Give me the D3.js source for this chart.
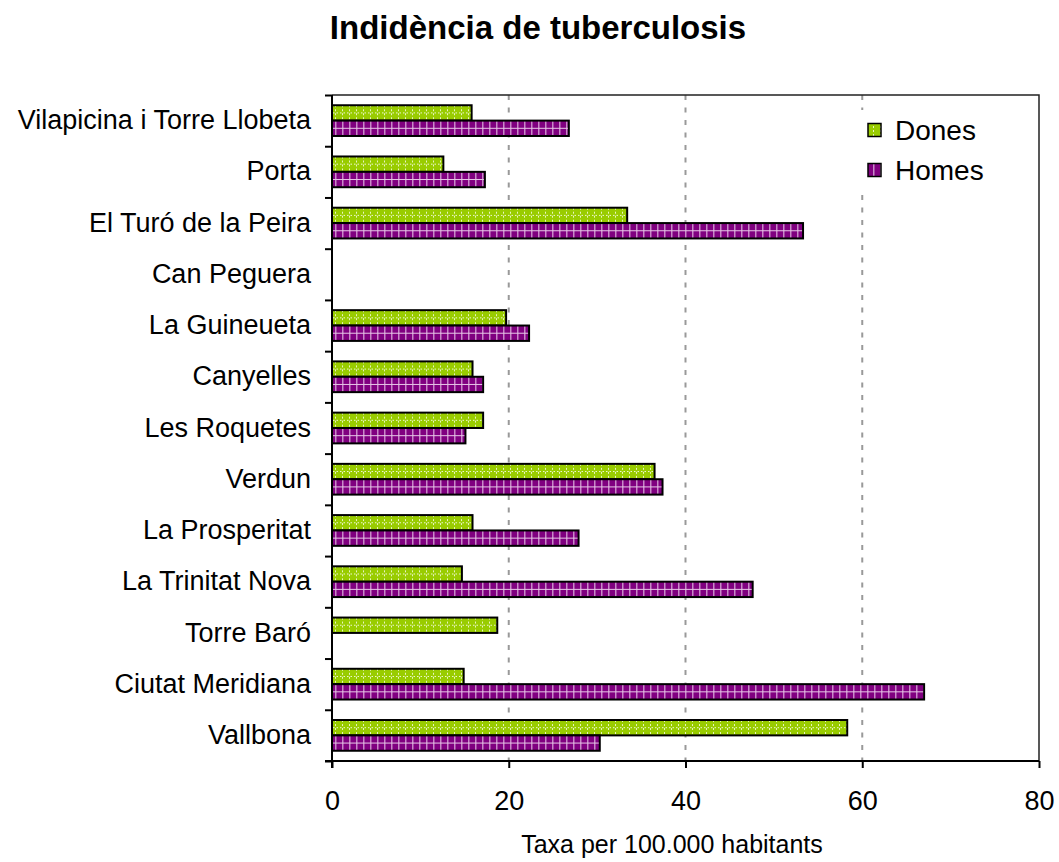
<!DOCTYPE html>
<html>
<head>
<meta charset="utf-8">
<script src="https://d3js.org/d3.v7.min.js"></script>
<style>
  body { margin: 0; background: #fff; }
  text { font-family: "Liberation Sans", Arial, sans-serif; fill: #000; }
</style>
</head>
<body>
<script>
// Neighbourhoods, top to bottom as drawn
var categories = ["Vilapicina i Torre Llobeta", "Porta", "El Turó de la Peira",
  "Can Peguera", "La Guineueta", "Canyelles", "Les Roquetes", "Verdun",
  "La Prosperitat", "La Trinitat Nova", "Torre Baró", "Ciutat Meridiana", "Vallbona"];

// rate per 100.000 inhabitants
var dones = [15.8, 12.6, 33.4, 0, 19.7, 15.9, 17.1, 36.5, 15.9, 14.7, 18.7, 14.9, 58.3];
var homes = [26.8, 17.3, 53.3, 0, 22.3, 17.1, 15.1, 37.4, 27.9, 47.6, 0, 67.0, 30.3];

var seriesNames = ["Dones", "Homes"];
var xTicks = [0, 20, 40, 60, 80];

var margin = {top: 95, right: 20, bottom: 101, left: 332},
    width = 1059 - margin.left - margin.right,
    height = 862 - margin.top - margin.bottom;

var svg = d3.select("body").append("svg")
    .attr("width", 1059)
    .attr("height", 862);

// fill patterns, close to the excel hatching
var defs = svg.append("defs");
var pg = defs.append("pattern")
    .attr("id", "pat-dones")
    .attr("patternUnits", "userSpaceOnUse")
    .attr("width", 7).attr("height", 4);
pg.append("rect").attr("width", 7).attr("height", 4).attr("fill", "#99cc00");
pg.append("rect").attr("x", 3).attr("y", 0).attr("width", 1).attr("height", 2)
    .attr("fill", "#e8f5c0");

var pp = defs.append("pattern")
    .attr("id", "pat-homes")
    .attr("patternUnits", "userSpaceOnUse")
    .attr("width", 7).attr("height", 4);
pp.append("rect").attr("width", 7).attr("height", 4).attr("fill", "#800080");
pp.append("rect").attr("x", 3).attr("y", 0).attr("width", 1.5).attr("height", 4)
    .attr("fill", "#c889c8");

var color = {Dones: "url(#pat-dones)", Homes: "url(#pat-homes)"};
var midStroke = {Dones: "#eef8d0", Homes: "#e6c6e6"};
var midDash = {Dones: "1.5,2", Homes: null};

// title
svg.append("text")
    .attr("x", 538)
    .attr("y", 39)
    .attr("text-anchor", "middle")
    .style("font-size", "33px")
    .style("font-weight", "bold")
    .text("Indidència de tuberculosis");

var g = svg.append("g")
    .attr("transform", "translate(" + margin.left + "," + margin.top + ")");

var x = d3.scaleLinear().domain([0, 80]).range([0, width]);
var y = d3.scaleBand().domain(categories).range([0, height])
    .paddingInner(0.4).paddingOuter(0.2);
var ySub = d3.scaleBand().domain(seriesNames).range([0, y.bandwidth()]);
// category boundaries for the tick marks
var yEdge = d3.scaleLinear().domain([0, categories.length]).range([0, height]);

// dashed gridlines
g.append("g")
  .selectAll("line")
  .data(xTicks.filter(function(d) { return d > 0 && d < 80; }))
  .enter().append("line")
    .attr("x1", function(d) { return x(d); })
    .attr("x2", function(d) { return x(d); })
    .attr("y1", 0)
    .attr("y2", height)
    .attr("stroke", "#999")
    .attr("stroke-width", 2)
    .attr("stroke-dasharray", "5,7.5");

// plot frame (top and right)
g.append("path")
    .attr("d", "M0,0H" + x(80) + "V" + height)
    .attr("fill", "none")
    .attr("stroke", "#222")
    .attr("stroke-width", 1.5);

// bars
var rows = categories.map(function(c, i) {
  return {cat: c, values: [{key: "Dones", v: dones[i]}, {key: "Homes", v: homes[i]}]};
});

var row = g.selectAll(".row")
  .data(rows)
  .enter().append("g")
    .attr("class", "row")
    .attr("transform", function(d) { return "translate(0," + y(d.cat) + ")"; });

var bar = row.selectAll(".bar")
  .data(function(d) { return d.values.filter(function(e) { return e.v > 0; }); })
  .enter().append("g")
    .attr("class", "bar");

bar.append("rect")
    .attr("x", x(0))
    .attr("y", function(d) { return ySub(d.key); })
    .attr("width", function(d) { return x(d.v) - x(0); })
    .attr("height", ySub.bandwidth())
    .attr("fill", function(d) { return color[d.key]; })
    .attr("stroke", "#000")
    .attr("stroke-width", 2);

bar.append("line")
    .attr("x1", x(0) + 1)
    .attr("x2", function(d) { return x(d.v) - 1; })
    .attr("y1", function(d) { return ySub(d.key) + ySub.bandwidth() / 2; })
    .attr("y2", function(d) { return ySub(d.key) + ySub.bandwidth() / 2; })
    .attr("stroke", function(d) { return midStroke[d.key]; })
    .attr("stroke-width", 1)
    .attr("stroke-dasharray", function(d) { return midDash[d.key]; });

// x axis
var xAxis = g.append("g")
    .attr("transform", "translate(0," + height + ")")
    .call(d3.axisBottom(x).tickValues(xTicks).tickSize(7).tickPadding(23));
xAxis.select(".domain").attr("stroke-width", 2).attr("d", "M-7,0H" + x(80));
xAxis.selectAll(".tick line").attr("stroke-width", 2);
xAxis.selectAll("text")
    .style("font-size", "27px")
    .style("font-family", "'Liberation Sans', Arial, sans-serif");

// y axis: tick marks at category edges, labels at centres
var yTicks = g.append("g")
    .call(d3.axisLeft(yEdge).ticks(categories.length).tickSize(7).tickFormat(""));
yTicks.select(".domain").attr("stroke-width", 2).attr("d", "M0,0V" + (height + 7));
yTicks.selectAll(".tick line").attr("stroke-width", 2);

var yLabels = g.append("g")
    .call(d3.axisLeft(y).tickSize(0).tickPadding(21));
yLabels.select(".domain").remove();
yLabels.selectAll("text")
    .style("font-size", "27px")
    .style("font-family", "'Liberation Sans', Arial, sans-serif");

// axis title
svg.append("text")
    .attr("x", 672)
    .attr("y", 853)
    .attr("text-anchor", "middle")
    .style("font-size", "25px")
    .text("Taxa per 100.000 habitants");

// legend
var legend = svg.append("g")
    .attr("transform", "translate(856,110)");
legend.append("rect")
    .attr("width", 135)
    .attr("height", 85)
    .attr("fill", "#fff");
var item = legend.selectAll(".item")
  .data(seriesNames)
  .enter().append("g")
    .attr("class", "item")
    .attr("transform", function(d, i) { return "translate(0," + (20 + i * 40) + ")"; });
item.append("rect")
    .attr("x", 12)
    .attr("y", -6.5)
    .attr("width", 13)
    .attr("height", 13)
    .attr("fill", function(d) { return color[d]; })
    .attr("stroke", "#000")
    .attr("stroke-width", 1.5);
item.append("text")
    .attr("x", 39)
    .attr("dy", "0.35em")
    .style("font-size", "28px")
    .text(function(d) { return d; });
</script>
</body>
</html>
